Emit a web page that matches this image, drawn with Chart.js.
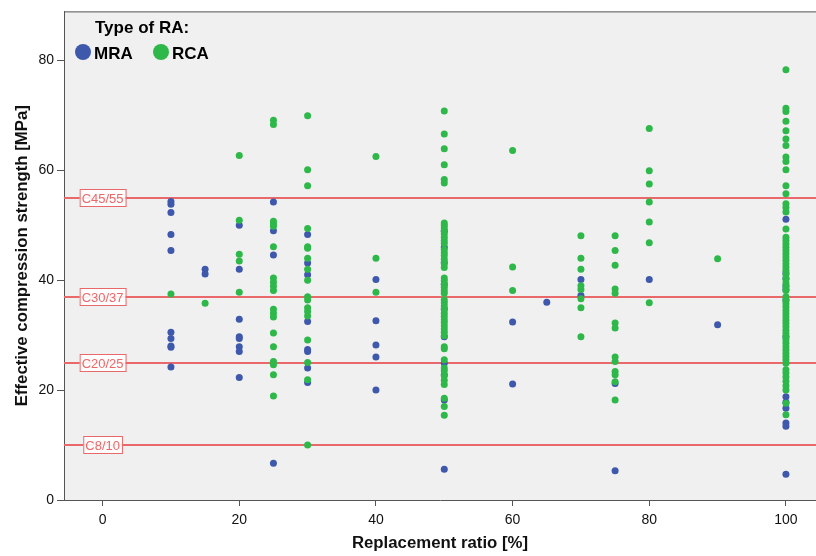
<!DOCTYPE html>
<html>
<head>
<meta charset="utf-8">
<script src="https://cdn.jsdelivr.net/npm/chart.js@4.4.0/dist/chart.umd.min.js"></script>
<style>
html, body { margin: 0; padding: 0; background: #fff; }
#wrap { width: 816px; height: 556px; position: relative; }
</style>
</head>
<body>
<div id="wrap"><canvas id="chart"></canvas></div>
<script>
// replacement ratios [%] that have measurements
const ratios = [10, 15, 20, 25, 30, 40, 50, 60, 65, 70, 75, 80, 90, 100];

// MRA strengths per ratio (same order as ratios)
const mraValues = [
    [54.3, 53.8, 52.3, 48.3, 45.4, 30.5, 29.4, 28.0, 27.8, 24.2],
    [42.0, 41.1],
    [50.0, 42.0, 32.9, 29.7, 29.4, 27.9, 27.0, 22.3],
    [54.2, 49.0, 44.6, 6.7],
    [48.3, 43.1, 41.0, 32.5, 27.4, 27.0, 24.0, 21.4],
    [40.1, 32.6, 28.2, 26.0, 20.0],
    [48.9, 46.0, 43.2, 39.2, 34.8, 29.7, 24.9, 22.8, 18.2, 5.6],
    [32.4, 21.1],
    [36.0],
    [40.1, 37.2],
    [21.2, 5.3],
    [40.1],
    [31.9],
    [51.1, 41.3, 40.3, 39.0, 38.3, 36.4, 29.7, 18.8, 17.8, 16.7, 14.0, 13.4, 4.7]
];

// RCA strengths per ratio
const rcaValues = [
    [37.5],
    [35.8],
    [62.7, 50.9, 44.7, 43.5, 37.8],
    [69.1, 68.3, 50.7, 50.2, 49.8, 46.1, 40.4, 39.6, 38.9, 38.1, 34.7, 34.0, 33.3, 30.4, 27.9, 25.2, 24.6, 22.8, 18.9],
    [69.9, 60.1, 57.2, 49.4, 46.1, 45.8, 44.0, 42.0, 40.0, 37.0, 36.4, 35.0, 34.3, 33.5, 29.1, 25.0, 21.9, 10.0],
    [62.5, 44.0, 37.8],
    [70.8, 66.6, 63.9, 61.0, 58.3, 57.7, 50.4, 50.0, 49.5, 49.0, 48.4, 47.8, 47.2, 46.7, 45.6, 45.0, 44.5, 43.8,
     43.0, 42.3, 40.4, 39.9, 39.3, 38.7, 38.1, 37.6, 36.4, 35.9, 35.3, 34.6, 34.0, 33.4, 32.8, 32.3, 31.7, 31.1,
     30.5, 29.9, 27.9, 27.5, 25.5, 24.0, 23.5, 22.6, 21.8, 21.0, 18.5, 17.0, 15.4],
    [63.6, 42.4, 38.1],
    [],
    [48.1, 44.0, 42.0, 39.0, 38.3, 36.6, 35.0, 29.7],
    [48.1, 45.4, 42.7, 38.4, 37.6, 32.2, 31.3, 26.0, 25.2, 23.4, 22.8, 21.5, 18.2],
    [67.6, 59.9, 57.5, 54.2, 50.6, 46.8, 35.9],
    [43.9],
    [78.3, 71.3, 70.7, 68.9, 67.2, 65.7, 64.5, 62.4, 61.6, 60.1, 57.2, 55.7, 53.9, 53.2, 52.4, 49.3, 47.8, 47.2,
     46.6, 46.0, 45.4, 44.8, 44.2, 43.6, 43.0, 42.4, 41.8, 41.0, 40.2, 39.5, 38.8, 38.1, 37.0, 36.3, 35.7, 35.1,
     34.5, 33.9, 33.3, 32.7, 32.1, 31.5, 30.9, 30.3, 29.7, 29.1, 28.5, 27.9, 27.3, 26.7, 26.1, 25.5, 24.9, 23.7,
     23.1, 22.4, 21.6, 20.8, 20.0, 17.6, 15.5]
];

// concrete strength classes drawn as reference lines
const classLabels = ['C45/55', 'C30/37', 'C20/25', 'C8/10'];
const classValues = [55, 37, 25, 10];

const xTicks = [0, 20, 40, 60, 80, 100];
const yTicks = [0, 20, 40, 60, 80];

const MRA_COLOR = '#3e58ac';
const RCA_COLOR = '#2fb84a';
const LINE_COLOR = '#e9696b';

function toPoints(groups) {
    const pts = [];
    groups.forEach((vals, i) => {
        vals.forEach(v => pts.push({ x: ratios[i], y: v }));
    });
    return pts;
}

const plotDecor = {
    id: 'plotDecor',
    beforeDatasetsDraw(chart) {
        const { ctx, chartArea: a, scales: { y } } = chart;
        ctx.save();
        ctx.strokeStyle = LINE_COLOR;
        ctx.lineWidth = 2;
        classValues.forEach(v => {
            const py = Math.round(y.getPixelForValue(v));
            ctx.beginPath();
            ctx.moveTo(a.left, py);
            ctx.lineTo(a.right, py);
            ctx.stroke();
        });
        ctx.restore();
    },
    beforeDraw(chart) {
        const { ctx, chartArea: a } = chart;
        ctx.save();
        ctx.fillStyle = '#f0f0f0';
        ctx.fillRect(a.left, a.top, a.right - a.left, a.bottom - a.top);
        ctx.restore();
    },
    afterDraw(chart) {
        const { ctx, chartArea: a, scales: { x, y } } = chart;
        ctx.save();
        // top frame line
        ctx.strokeStyle = '#555';
        ctx.lineWidth = 1;
        ctx.beginPath();
        ctx.moveTo(a.left, a.top + 0.5);
        ctx.lineTo(a.right, a.top + 0.5);
        ctx.stroke();

        // class labels, boxed, centred on x = 0
        ctx.font = '13px "Liberation Sans", Arial, sans-serif';
        ctx.textAlign = 'center';
        ctx.textBaseline = 'middle';
        const cx = x.getPixelForValue(0);
        classValues.forEach((v, i) => {
            const py = Math.round(y.getPixelForValue(v));
            const w = ctx.measureText(classLabels[i]).width + 4;
            ctx.fillStyle = 'rgba(255,255,255,0.9)';
            ctx.fillRect(cx - w / 2, py - 9, w, 17);
            ctx.strokeStyle = LINE_COLOR;
            ctx.strokeRect(cx - w / 2 + 0.5, py - 8.5, w, 17);
            ctx.fillStyle = LINE_COLOR;
            ctx.fillText(classLabels[i], cx, py + 1);
        });

        // legend inside the plot
        ctx.fillStyle = '#000';
        ctx.textAlign = 'left';
        ctx.textBaseline = 'alphabetic';
        ctx.font = 'bold 17px "Liberation Sans", Arial, sans-serif';
        ctx.fillText('Type of RA:', 95, 33);
        const items = [['MRA', MRA_COLOR, 83], ['RCA', RCA_COLOR, 161]];
        items.forEach(([label, color, lx]) => {
            ctx.fillStyle = color;
            ctx.beginPath();
            ctx.arc(lx, 52, 8, 0, Math.PI * 2);
            ctx.fill();
            ctx.fillStyle = '#000';
            ctx.fillText(label, lx + 11, 59);
        });
        ctx.restore();
    }
};

const tickFont = { family: '"Liberation Sans", Arial, sans-serif', size: 14 };
const titleFont = { family: '"Liberation Sans", Arial, sans-serif', size: 16.8, weight: 'bold' };

new Chart(document.getElementById('chart'), {
    type: 'scatter',
    data: {
        datasets: [
            {
                label: 'MRA',
                data: toPoints(mraValues),
                backgroundColor: MRA_COLOR,
                borderColor: MRA_COLOR,
                borderWidth: 0,
                pointRadius: 3.5,
                order: 1
            },
            {
                label: 'RCA',
                data: toPoints(rcaValues),
                backgroundColor: RCA_COLOR,
                borderColor: RCA_COLOR,
                borderWidth: 0,
                pointRadius: 3.5,
                order: 0
            }
        ]
    },
    options: {
        responsive: true,
        maintainAspectRatio: false,
        animation: false,
        layout: { autoPadding: false, padding: { top: 11, right: 0, left: 0, bottom: 0 } },
        plugins: {
            legend: { display: false },
            tooltip: { enabled: false }
        },
        scales: {
            x: {
                type: 'linear',
                min: -5.65,
                max: 104.4,
                afterBuildTicks: s => { s.ticks = xTicks.map(v => ({ value: v })); },
                afterFit: s => { s.height = 56; },
                grid: { display: true, drawOnChartArea: false, drawTicks: true, tickLength: 6, color: '#555' },
                border: { display: true, color: '#555' },
                ticks: { font: tickFont, color: '#111', padding: 6, maxRotation: 0 },
                title: { display: true, text: 'Replacement ratio [%]', font: titleFont, color: '#111', padding: { top: 0, bottom: 3 } }
            },
            y: {
                type: 'linear',
                min: 0,
                max: 88.9,
                afterBuildTicks: s => { s.ticks = yTicks.map(v => ({ value: v })); },
                afterFit: s => { s.width = 64; },
                grid: { display: true, drawOnChartArea: false, drawTicks: true, tickLength: 7, color: '#555' },
                border: { display: true, color: '#555' },
                ticks: { font: tickFont, color: '#111', padding: 3 },
                title: { display: true, text: 'Effective compression strength [MPa]', font: titleFont, color: '#111', padding: { top: 12, bottom: 0 } }
            }
        }
    },
    plugins: [plotDecor]
});
</script>
</body>
</html>
